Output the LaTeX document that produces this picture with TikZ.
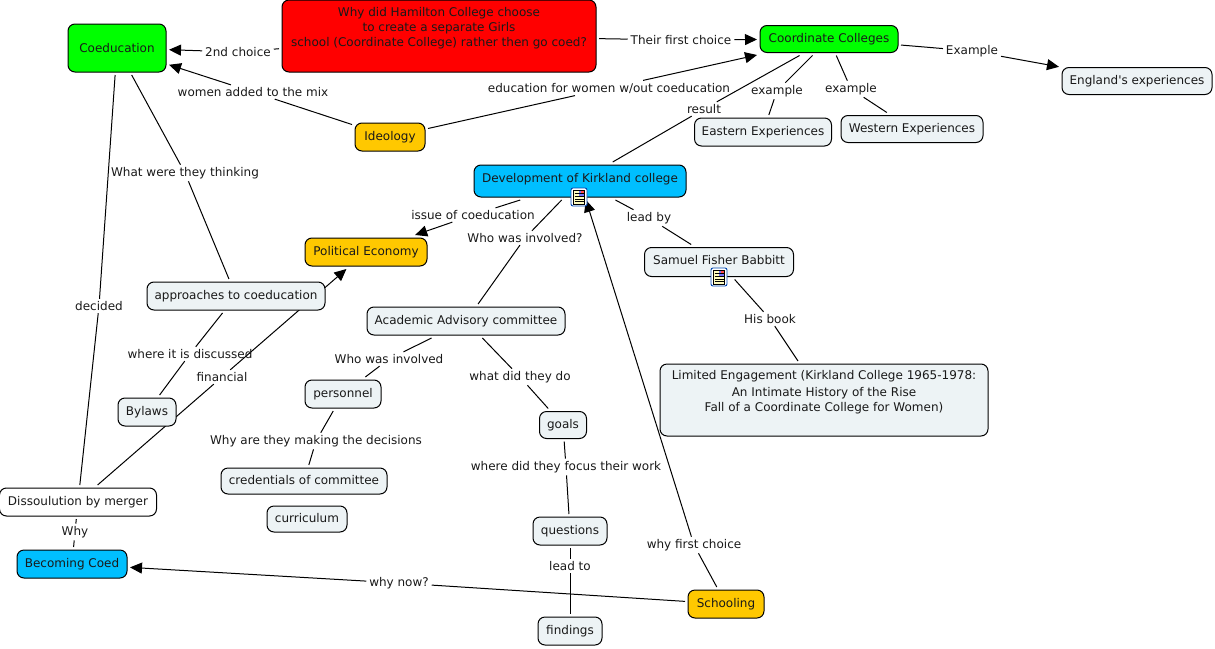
\documentclass[tikz,border=0pt]{standalone}
\usepackage{fontspec}
\setmainfont{DejaVu Sans}[Ligatures=TeXOff]
\usetikzlibrary{arrows.meta,backgrounds}
\definecolor{paleblue}{HTML}{EDF3F5}
\definecolor{goldfill}{HTML}{FFC800}
\definecolor{skyfill}{HTML}{00BFFF}

\tikzset{
  every node/.style={font=\fontsize{12}{15}\selectfont,text=black!90},
  concept/.style={draw=black,line width=1pt,rounded corners=7pt,fill=paleblue,
    inner xsep=0pt,inner ysep=0pt,outer sep=3pt,text height=10pt,text depth=3pt,
    minimum height=28pt},
  linkname/.style={inner xsep=3pt,inner ysep=2.5pt,outer sep=0pt},
  noteicon/.pic={
    \fill[white,draw=blue!60!cyan!70!black,line width=.9pt,rounded corners=2pt] (-8,-9) rectangle (8,9);
    \fill[yellow!25,draw=black,line width=.4pt] (-5.5,-7) rectangle (5.5,7);
    \fill[blue!55] (0,-6) rectangle (4.5,-1);
    \fill[red!70] (2,-6) rectangle (4.5,-4);
    \foreach \y in {-3.5,-.5,2,4.5}{
      \draw[black,line width=.4pt] (-4.5,\y) -- (4.5,\y);
    }
  }
}

\begin{document}
\begin{tikzpicture}[x=1pt,y=-1pt,
  plainlink/.style={line width=1pt},
  linked/.style={line width=1pt,-{Triangle[length=12pt,width=11pt]}}]
\useasboundingbox (0,0) rectangle (1215,648);
  % concepts
  \node[concept,fill=green,minimum width=98pt,minimum height=48pt,text depth=1pt] (coed) at (117,48) {Coeducation};
  \node[concept,fill=red,minimum width=314pt,align=center,text height=46.5pt,text depth=25.5pt] (hamilton) at (439,36)
    {Why did Hamilton College choose\\to create a separate Girls\\school (Coordinate College) rather then go coed?};
  \node[concept,fill=green,minimum width=138pt,minimum height=27pt] (coord) at (829,39) {Coordinate Colleges};
  \node[concept,minimum width=150pt,minimum height=27pt] (england) at (1137,81) {England's experiences};
  \node[concept,minimum width=137pt] (eastern) at (763,132) {Eastern Experiences};
  \node[concept,minimum width=142pt,minimum height=27pt] (western) at (912,129) {Western Experiences};
  \node[concept,fill=goldfill,minimum width=70pt] (ideology) at (390,137) {Ideology};
  \node[concept,fill=skyfill,minimum width=212pt,minimum height=32pt,text depth=7pt] (kirkland) at (580,181) {Development of Kirkland college};
  \node[concept,fill=goldfill,minimum width=122pt] (economy) at (366,252) {Political Economy};
  \node[concept,minimum width=149pt,minimum height=29pt,text depth=5pt] (babbitt) at (719,262) {Samuel Fisher Babbitt};
  \node[concept,minimum width=178pt] (approaches) at (236,296) {approaches to coeducation};
  \node[concept,minimum width=198pt] (advisory) at (466,321) {Academic Advisory committee};
  \node[concept,minimum width=328pt,align=center,text height=47.5pt,text depth=24.5pt] (limited) at (824,400)
    {Limited Engagement (Kirkland College 1965-1978:\\[2pt]An Intimate History of the Rise\\Fall of a Coordinate College for Women)};
  \node[concept,minimum width=76pt] (personnel) at (343,394) {personnel};
  \node[concept,minimum width=58pt] (bylaws) at (147,412) {Bylaws};
  \node[concept,minimum width=47pt,minimum height=27pt] (goals) at (563,425) {goals};
  \node[concept,minimum width=166pt,minimum height=26pt] (credentials) at (304,481) {credentials of committee};
  \node[concept,fill=white,minimum width=157pt] (merger) at (78,502) {Dissoulution by merger};
  \node[concept,minimum width=80pt,minimum height=26pt] (curriculum) at (307,519) {curriculum};
  \node[concept,minimum width=74pt] (questions) at (570,531) {questions};
  \node[concept,fill=skyfill,minimum width=110pt] (becoming) at (72,564) {Becoming Coed};
  \node[concept,fill=goldfill,minimum width=76pt] (schooling) at (726,604) {Schooling};
  \node[concept,minimum width=64pt] (findings) at (570,631) {findings};
  % linking phrases
  \node[linkname] (second) at (238,52) {2nd choice};
  \node[linkname] (first) at (681,40) {Their first choice};
  \node[linkname] (example) at (972,51) {Example};
  \node[linkname] (mix) at (253,92) {women added to the mix};
  \node[linkname] (without) at (609,88) {education for women w/out coeducation};
  \node[linkname] (result) at (704,109) {result};
  \node[linkname] (exeast) at (777,91) {example};
  \node[linkname] (exwest) at (851,89) {example};
  \node[linkname] (thinking) at (185,173) {What were they thinking};
  \node[linkname] (decided) at (99,306) {decided};
  \node[linkname] (issue) at (473,215) {issue of coeducation};
  \node[linkname] (involved) at (525,238) {Who was involved?};
  \node[linkname] (leadby) at (649,218) {lead by};
  \node[linkname] (book) at (770,319) {His book};
  \node[linkname] (discussed) at (190,354) {where it is discussed};
  \node[linkname] (financial) at (222,377) {financial};
  \node[linkname] (who) at (389,359) {Who was involved};
  \node[linkname] (what) at (520,377) {what did they do};
  \node[linkname] (decisions) at (316,441) {Why are they making the decisions};
  \node[linkname] (focus) at (566,467) {where did they focus their work};
  \node[linkname] (whyfirst) at (694,545) {why first choice};
  \node[linkname] (why) at (75,532) {Why};
  \node[linkname] (leadto) at (570,566) {lead to};
  \node[linkname] (whynow) at (399,583) {why now?};
  % connectors
  \begin{scope}[on background layer]
    \foreach \from/\via/\to in {hamilton/second/coed,hamilton/first/coord,coord/example/england,
      ideology/mix/coed,ideology/without/coord,kirkland/issue/economy,merger/financial/economy,
      schooling/whynow/becoming,schooling/whyfirst/kirkland}{
      \draw[plainlink] (\from) -- (\via);
      \draw[linked] (\via) -- (\to);
    }
    \foreach \from/\via/\to in {coord/result/kirkland,coord/exeast/eastern,coord/exwest/western,
      coed/thinking/approaches,coed/decided/merger,kirkland/involved/advisory,kirkland/leadby/babbitt,
      babbitt/book/limited,approaches/discussed/bylaws,advisory/who/personnel,advisory/what/goals,
      personnel/decisions/credentials,goals/focus/questions,questions/leadto/findings,merger/why/becoming}{
      \draw[plainlink] (\from) -- (\via);
      \draw[plainlink] (\via) -- (\to);
    }
  \end{scope}
  % note icons
  \pic at (579,197) {noteicon};
  \pic at (719,277) {noteicon};
\end{tikzpicture}
\end{document}
